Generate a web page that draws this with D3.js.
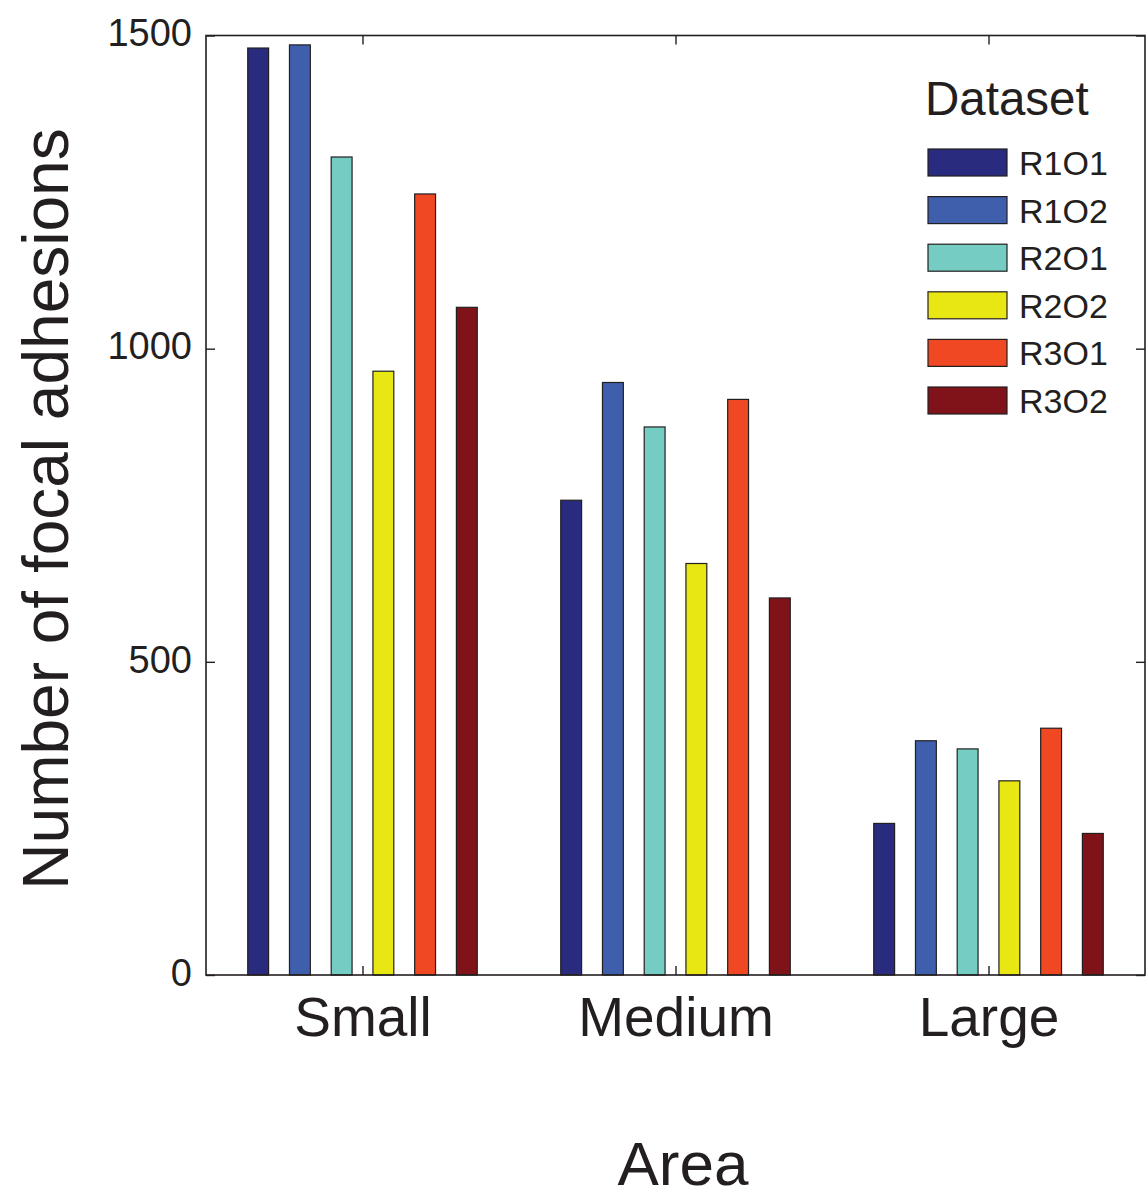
<!DOCTYPE html>
<html>
<head>
<meta charset="utf-8">
<script src="https://cdn.jsdelivr.net/npm/d3@7"></script>
<style>
  html, body { margin: 0; padding: 0; background: #fff; }
  svg { display: block; }
  text { font-family: "Liberation Sans", Arial, Helvetica, sans-serif; fill: #231f20; }
</style>
</head>
<body>
<svg id="chart" width="1148" height="1197"></svg>
<script>
const categories = ["Small", "Medium", "Large"];
const seriesNames = ["R1O1", "R1O2", "R2O1", "R2O2", "R3O1", "R3O2"];
const R1O1 = [1480, 758, 242];
const R1O2 = [1485, 946, 374];
const R2O1 = [1306, 875, 361];
const R2O2 = [964, 657, 310];
const R3O1 = [1247, 919, 394];
const R3O2 = [1066, 602, 226];
const seriesValues = [R1O1, R1O2, R2O1, R2O2, R3O1, R3O2];
const colors = ["#292c7e", "#3f5fac", "#75ccc2", "#e8e613", "#ef4823", "#80131a"];
const yTicks = [0, 500, 1000, 1500];
const yLabel = "Number of focal adhesions";
const xLabel = "Area";
const legendTitle = "Dataset";

const svg = d3.select("#chart");
const L = 206, R = 1145, T = 35.5, B = 975;
const ink = "#231f20";

const x = d3.scaleLinear().domain([0.5, 3.5]).range([L, R]);
const y = d3.scaleLinear().domain([0, 1500]).range([B, T]);

// bars
categories.forEach((cat, gi) => {
  const g = gi + 1;
  const inner = d3.scaleBand().domain(seriesNames)
    .range([x(g - 0.4), x(g + 0.4)]).paddingInner(0.5).paddingOuter(0.25);
  svg.append("g").selectAll("rect")
    .data(seriesNames.map((s, si) => ({ s, v: seriesValues[si][gi], c: colors[si] })))
    .join("rect")
    .attr("x", d => inner(d.s))
    .attr("width", inner.bandwidth())
    .attr("y", d => y(d.v))
    .attr("height", d => y(0) - y(d.v))
    .attr("fill", d => d.c)
    .attr("stroke", ink)
    .attr("stroke-width", 1.2);
});

// frame
svg.append("rect").attr("x", L).attr("y", T).attr("width", R - L).attr("height", B - T)
  .attr("fill", "none").attr("stroke", ink).attr("stroke-width", 1.6);

const tickLen = 9;
// left axis
const yAxisL = d3.axisLeft(y).tickValues(yTicks).tickSize(-tickLen).tickPadding(14).tickFormat(d3.format("d"));
const gL = svg.append("g").attr("transform", `translate(${L},0)`).call(yAxisL);
gL.select(".domain").remove();
gL.selectAll("line").attr("stroke", ink).attr("stroke-width", 1.4);
gL.selectAll("text").attr("font-size", 38).attr("fill", ink).attr("dy", "0.27em");

// right axis ticks
const yAxisR = d3.axisRight(y).tickValues(yTicks).tickSize(-tickLen).tickFormat("");
const gR = svg.append("g").attr("transform", `translate(${R},0)`).call(yAxisR);
gR.select(".domain").remove();
gR.selectAll("line").attr("stroke", ink).attr("stroke-width", 1.4);

// bottom axis
const xAxisB = d3.axisBottom(x).tickValues([1, 2, 3]).tickSize(-tickLen).tickPadding(22)
  .tickFormat((d, i) => categories[i]);
const gB = svg.append("g").attr("transform", `translate(0,${B})`).call(xAxisB);
gB.select(".domain").remove();
gB.selectAll("line").attr("stroke", ink).attr("stroke-width", 1.4);
gB.selectAll("text").attr("font-size", 55).attr("fill", ink).attr("dy", "0.71em");

// top axis ticks
const xAxisT = d3.axisTop(x).tickValues([1, 2, 3]).tickSize(-tickLen).tickFormat("");
const gT = svg.append("g").attr("transform", `translate(0,${T})`).call(xAxisT);
gT.select(".domain").remove();
gT.selectAll("line").attr("stroke", ink).attr("stroke-width", 1.4);

// axis titles
svg.append("text").attr("x", 683).attr("y", 1185).attr("text-anchor", "middle")
  .attr("font-size", 62).text(xLabel);
svg.append("text").attr("transform", "translate(68,509) rotate(-90)")
  .attr("text-anchor", "middle").attr("font-size", 64).text(yLabel);

// legend
const lg = svg.append("g");
lg.append("text").attr("x", 925).attr("y", 115).attr("font-size", 47.5).text(legendTitle);
seriesNames.forEach((s, i) => {
  const yy = 149 + i * 47.6;
  lg.append("rect").attr("x", 928).attr("y", yy).attr("width", 79).attr("height", 27)
    .attr("fill", colors[i]).attr("stroke", ink).attr("stroke-width", 1.2);
  lg.append("text").attr("x", 1019).attr("y", yy + 26).attr("font-size", 34).text(s);
});
</script>
</body>
</html>
